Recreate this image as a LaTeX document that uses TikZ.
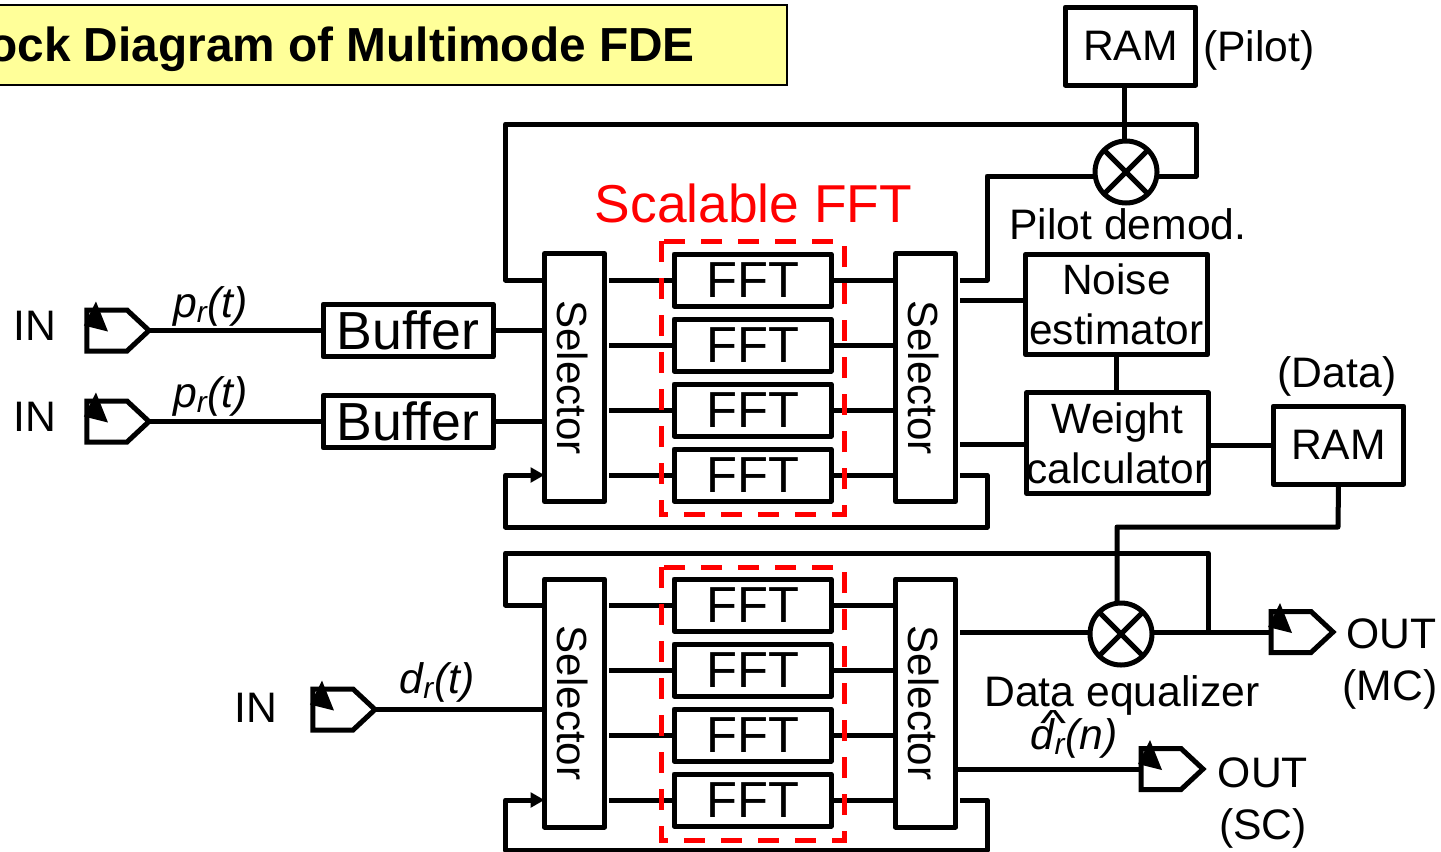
\documentclass[tikz,border=0pt]{standalone}
\usepackage{fontspec}
\setmainfont{Liberation Sans}
\usepackage{xcolor}
\usetikzlibrary{arrows.meta, calc, shapes.symbols}
\definecolor{titlefill}{HTML}{FFFF99}
\tikzset{
    wire/.style={line width=3.75pt, line join=round},
    fbwire/.style={wire, -{Triangle[length=10.5pt,width=11pt]}},
    box/.style={draw, line width=3.75pt, rectangle, inner sep=0pt, outer sep=0pt, line join=round},
    fftbox/.style={box, minimum width=117.75pt, minimum height=39pt, font=\fontsize{38}{38}\selectfont},
    selbox/.style={box, minimum width=45pt, minimum height=186pt, font=\fontsize{31.6}{31.6}\selectfont},
    bufbox/.style={box, minimum width=127.5pt, minimum height=39.5pt, font=\fontsize{40.2}{40.2}\selectfont},
    rambox/.style={box, minimum width=98pt, minimum height=58.5pt, font=\fontsize{32}{32}\selectfont},
    calcbox/.style={box, minimum width=136.5pt, minimum height=75.5pt, align=center, font=\fontsize{31.8}{38.2}\selectfont},
    mult/.style={draw, circle, line width=3.75pt, minimum size=46.5pt, inner sep=0pt, outer sep=0pt},
    port/.style={draw, signal, signal to=east, signal pointer angle=86, line width=3.75pt, minimum width=46.5pt, minimum height=30.75pt, inner sep=0pt, outer sep=0pt},
    lbl/.style={font=\fontsize{32}{38}\selectfont, align=center, inner sep=0pt},
    siglbl/.style={font=\fontsize{32}{32}\selectfont\itshape, inner sep=0pt},
    fftdash/.style={draw=red, line width=3.75pt, dash pattern=on 15.75pt off 12pt},
}
\begin{document}
\begin{tikzpicture}[x=0.75pt, y=-0.75pt]
    \path[use as bounding box, clip] (0,0) rectangle (1441,851);

    % title
    \node[draw, line width=1.5pt, fill=titlefill, minimum width=820pt, minimum height=60pt, inner sep=0pt, anchor=east] (titlebar) at (788,45) {};
    \node[font=\fontsize{35.85}{35.85}\selectfont\bfseries, inner sep=0pt, anchor=east] (titletext) at (695,49) {Block Diagram of Multimode FDE};

    % selectors
    \node[selbox] (sela) at (574.5,377.5) {\hspace*{-3pt}\rotatebox{-90}{Selector}};
    \node[selbox] (selb) at (925.5,377.5) {\hspace*{-3pt}\rotatebox{-90}{Selector}};
    \node[selbox] (selc) at (574.5,703) {\hspace*{-3pt}\rotatebox{-90}{Selector}};
    \node[selbox] (seld) at (925.5,703) {\hspace*{-3pt}\rotatebox{-90}{Selector}};

    % FFT banks
    \foreach \i/\ya/\yb in {1/280/605, 2/345/670, 3/410/735, 4/475/800} {
        \node[fftbox] (fa\i) at (752.5,\ya) {\raisebox{-0.75pt}{FFT}};
        \node[fftbox] (fb\i) at (752.5,\yb) {\raisebox{-0.75pt}{FFT}};
        \draw[wire] ([xshift=3.5pt]sela.east |- fa\i) -- (fa\i.west);
        \draw[wire] (fa\i.east) -- (selb.west |- fa\i);
        \draw[wire] ([xshift=3.5pt]selc.east |- fb\i) -- (fb\i.west);
        \draw[wire] (fb\i.east) -- (seld.west |- fb\i);
    }

    % inputs and buffers
    \node[port] (ina) at (107,330.5) {};
    \node[port] (inb) at (107,421.5) {};
    \node[port] (inc) at (333,709.5) {};
    \node[port] (outa) at (1291,632) {};
    \node[port] (outb) at (1161,769) {};
    \foreach \p in {ina, inb, inc, outa, outb} {
        \fill ([shift={(9,-29)}]\p.west) -- ([shift={(-3,-5)}]\p.west) -- ([shift={(21,1)}]\p.west) -- cycle;
    }
    \node[bufbox] (bufa) at (408,330.5) {Buffer};
    \node[bufbox] (bufb) at (408,421.5) {Buffer};
    \draw[wire] (ina.east) -- (bufa.west);
    \draw[wire] (inb.east) -- (bufb.west);
    \draw[wire] (bufa.east) -- (sela.west |- bufa);
    \draw[wire] (bufb.east) -- (sela.west |- bufb);
    \draw[wire] (inc.east) -- (selc.west |- inc);

    \node[lbl] (ina lbl) at (34.5,326) {IN};
    \node[lbl] (inb lbl) at (34.5,417) {IN};
    \node[lbl] (inc lbl) at (256,708) {IN};
    \node[siglbl] (pa) at (210.5,306) {p\textsubscript{r}(t)};
    \node[siglbl] (pb) at (210.5,396) {p\textsubscript{r}(t)};
    \node[siglbl] (dr) at (437,682) {d\textsubscript{r}(t)};

    % pilot path
    \node[rambox] (ramp) at (1130.5,46) {\raisebox{-0.75pt}{RAM}};
    \node[lbl, anchor=west] (pilot) at (1203,50) {(Pilot)};
    \node[mult] (mp) at (1126,172) {};
    \draw[line width=3.75pt] (mp.45) -- (mp.225) (mp.135) -- (mp.315);
    \node[lbl] (demod) at (1128,224) {Pilot demod.};
    \draw[wire] (ramp.south -| 1124,0) -- (mp.north -| 1124,0);
    \coordinate (loopa) at (505.5,124);
    \coordinate (loopb) at (1196,124);
    \draw[wire] (sela.west |- fa1) -| (loopa) -- (loopb) |- ([yshift=-3pt]mp.east);
    \draw[wire] ([xshift=3.5pt]selb.east |- fa1) -- (987,280) |- ([yshift=-3pt]mp.west);

    % estimators
    \node[calcbox] (noise) at (1116.5,304.5) {\raisebox{-0.75pt}{Noise}\\estimator};
    \node[calcbox] (weight) at (1117.5,443) {\raisebox{-0.75pt}{Weight}\\calculator};
    \node[rambox] (ramd) at (1338.5,445) {\raisebox{-0.75pt}{RAM}};
    \node[lbl] (datalbl) at (1337,376) {(Data)};
    \draw[wire] (noise.south) -- (noise.south |- weight.north);
    \draw[wire] ([xshift=3.5pt]selb.east |- 0,300) -- (noise.west |- 0,300);
    \draw[wire] ([xshift=3.5pt]selb.east |- 0,444) -- (weight.west |- 0,444);
    \draw[wire] (weight.east |- ramd) -- (ramd.west);

    % feedback, upper bank
    \coordinate (fba) at (987,527);
    \coordinate (fbb) at (505.5,527);
    \draw[fbwire] ([xshift=3.5pt]selb.east |- fa4) -| (fba) -- (fbb) |- (sela.west |- fa4);

    % equalizer
    \node[mult] (md) at (1121,634) {};
    \draw[line width=3.75pt] (md.45) -- (md.225) (md.135) -- (md.315);
    \node[lbl] (eqlbl) at (1122,695) {Data equalizer};
    \draw[wire] (ramd.south) -- (1338,527) -| ([xshift=-3pt]md.north);
    \draw[wire] ([xshift=3.5pt]seld.east |- 0,632) -- (md.west |- 0,632);
    \draw[wire] (md.east |- 0,632) -- (outa.west);
    \coordinate (loopc) at (1208,632);
    \coordinate (loopd) at (505.5,553);
    \draw[wire] (loopc) |- (loopd) |- (selc.west |- fb1);
    \draw[wire] (seld.east |- outb) -- (outb.west);
    \coordinate (fbc) at (987,850);
    \coordinate (fbd) at (505.5,850);
    \draw[fbwire] ([xshift=3.5pt]seld.east |- fb4) -| (fbc) -- (fbd) |- (selc.west |- fb4);

    \node[lbl, anchor=west] (outa lbl) at (1346,634) {OUT};
    \node[lbl] (mclbl) at (1390,689) {(MC)};
    \node[lbl] (outb lbl) at (1263,773) {OUT};
    \node[lbl] (sclbl) at (1263,828) {(SC)};
    \node[siglbl] (dhat) at (1074,738) {\rlap{\smash{\hspace{0.2em}\raisebox{0.31em}{\scalebox{1.3}[0.85]{\textasciicircum}}}}d\textsubscript{r}(n)};

    % scalable blocks
    \node[font=\fontsize{40}{40}\selectfont, text=red, inner sep=0pt] (scal) at (753.5,203) {Scalable FFT};
    \draw[fftdash] (661,241) rectangle (844,514);
    \draw[fftdash] (661,567) rectangle (844,840);
\end{tikzpicture}
\end{document}
